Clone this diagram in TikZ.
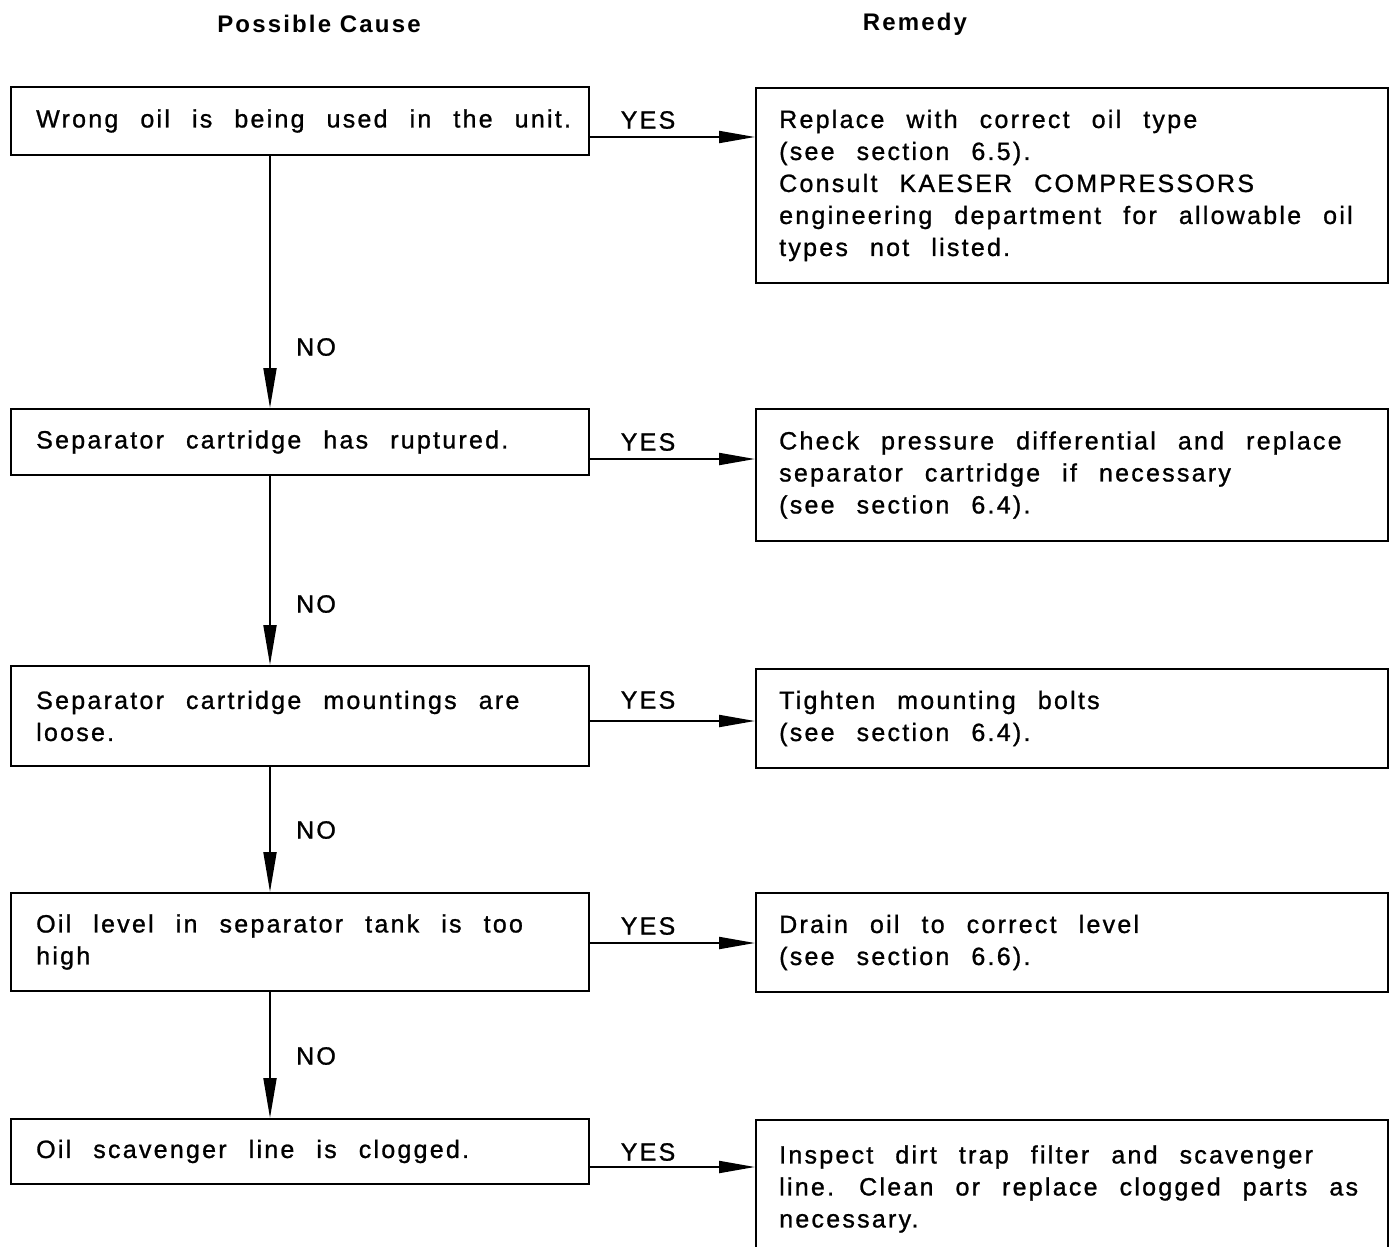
\documentclass[tikz,border=0pt]{standalone}
\usepackage{fontspec}
\setmainfont{Liberation Sans}
\newfontfamily\boxfont[LetterSpace=9,WordSpace=2.4,FakeBold=1]{Liberation Sans}
\newfontfamily\headfont[LetterSpace=9]{Liberation Sans}
\usetikzlibrary{arrows.meta}

\begin{document}
\begin{tikzpicture}[x=1pt,y=-1pt,
  causebox/.style={draw, line width=2pt, minimum width=578pt, inner sep=0pt},
  remedybox/.style={draw, line width=2pt, minimum width=632pt, inner sep=0pt},
  boxtext/.style={anchor=west, align=left, inner sep=0pt,
    font=\boxfont\fontsize{25}{32}\selectfont},
  lbl/.style={inner sep=0pt, font=\boxfont\fontsize{25}{28}\selectfont},
  head/.style={inner sep=0pt, font=\headfont\bfseries\fontsize{24}{28}\selectfont},
  noarrow/.style={line width=2pt, -{Triangle[length=40pt,width=13pt]}},
  yesarrow/.style={line width=2pt, -{Triangle[length=36pt,width=12pt]}}
]
\useasboundingbox (0,0) rectangle (1395,1247);
\clip (0,0) rectangle (1395,1247);
\fill[white] (0,0) rectangle (1395,1247);

% column headings
\node[head] (hc) at (319,24) {Possible Cause};
\node[head] (hr) at (915,24) {Remedy};

% possible causes
\node[causebox, minimum height=68pt]  (b1) at (300,121) {};
\node[causebox, minimum height=66pt]  (b2) at (300,442) {};
\node[causebox, minimum height=100pt] (b3) at (300,716) {};
\node[causebox, minimum height=98pt]  (b4) at (300,942) {};
\node[causebox, minimum height=65pt]  (b5) at (300,1151.5) {};

\node[boxtext] (t1) at ([xshift=26pt]b1.west) {Wrong oil is being used in the unit.};
\node[boxtext] (t2) at ([xshift=26pt]b2.west) {Separator cartridge has ruptured.};
\node[boxtext] (t3) at ([xshift=26pt]b3.west) {Separator cartridge mountings are\\loose.};
\node[boxtext] (t4) at ([xshift=26pt]b4.west) {Oil level in separator tank is too\\high};
\node[boxtext] (t5) at ([xshift=26pt]b5.west) {Oil scavenger line is clogged.};

% remedies
\node[remedybox, minimum height=195pt] (r1) at (1072,185.5) {};
\node[remedybox, minimum height=132pt] (r2) at (1072,475) {};
\node[remedybox, minimum height=99pt]  (r3) at (1072,718.5) {};
\node[remedybox, minimum height=99pt]  (r4) at (1072,942.5) {};
\node[remedybox, minimum height=138pt] (r5) at (1072,1189) {};

\node[boxtext] (s1) at ([xshift=24pt]r1.west) {Replace with correct oil type\\(see section 6.5).\\Consult KAESER COMPRESSORS\\engineering department for allowable oil\\types not listed.};
\node[boxtext] (s2) at ([xshift=24pt]r2.west) {Check pressure differential and replace\\separator cartridge if necessary\\(see section 6.4).};
\node[boxtext] (s3) at ([xshift=24pt]r3.west) {Tighten mounting bolts\\(see section 6.4).};
\node[boxtext] (s4) at ([xshift=24pt]r4.west) {Drain oil to correct level\\(see section 6.6).};
\node[boxtext] (s5) at ([xshift=24pt]r5.west) {Inspect dirt trap filter and scavenger\\line. Clean or replace clogged parts as\\necessary.};

% NO connectors down the cause column
\coordinate (vx) at (270,0);
\draw[noarrow] (b1.south -| vx) -- (b2.north -| vx);
\draw[noarrow] (b2.south -| vx) -- (b3.north -| vx);
\draw[noarrow] (b3.south -| vx) -- (b4.north -| vx);
\draw[noarrow] (b4.south -| vx) -- (b5.north -| vx);
\node[lbl] (n1) at (316,347) {NO};
\node[lbl] (n2) at (316,604) {NO};
\node[lbl] (n3) at (316,830) {NO};
\node[lbl] (n4) at (316,1056) {NO};

% YES connectors to the remedies
\coordinate (ya1) at (0,137);
\coordinate (ya2) at (0,459);
\coordinate (ya3) at (0,721);
\coordinate (ya4) at (0,943);
\coordinate (ya5) at (0,1167);
\draw[yesarrow] (b1.east |- ya1) -- (r1.west |- ya1);
\draw[yesarrow] (b2.east |- ya2) -- (r2.west |- ya2);
\draw[yesarrow] (b3.east |- ya3) -- (r3.west |- ya3);
\draw[yesarrow] (b4.east |- ya4) -- (r4.west |- ya4);
\draw[yesarrow] (b5.east |- ya5) -- (r5.west |- ya5);
\node[lbl] (y1) at (648,120) {YES};
\node[lbl] (y2) at (648,442) {YES};
\node[lbl] (y3) at (648,700) {YES};
\node[lbl] (y4) at (648,926) {YES};
\node[lbl] (y5) at (648,1152) {YES};
\end{tikzpicture}
\end{document}
